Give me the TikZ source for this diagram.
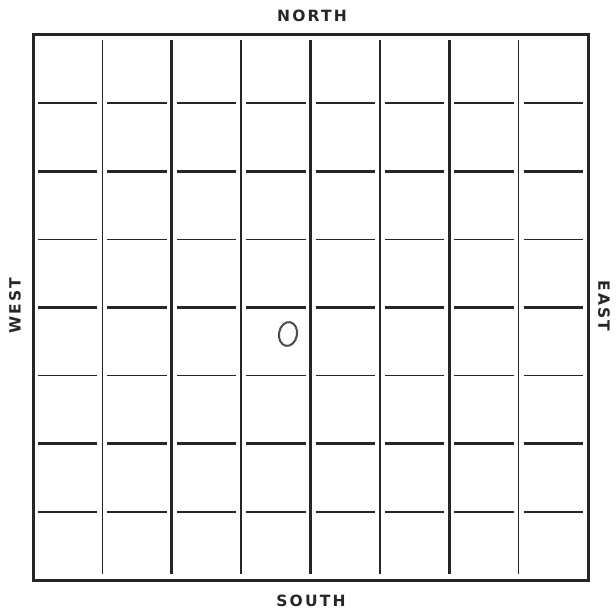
\documentclass[tikz,border=0pt]{standalone}
\usepackage{fontspec}
\newfontfamily\mapfont[LetterSpace=14]{DejaVu Sans}
\begin{document}
\begin{tikzpicture}[x=1pt,y=-1pt,
    street/.style={line width=1.7pt, color=black!85},
    avenue/.style={line width=2.9pt, color=black!85},
    compass/.style={font=\mapfont\bfseries\fontsize{15.5}{15.5}\selectfont, color=black!85}]
    \useasboundingbox (0,0) rectangle (616,609);
    \draw[line width=3pt, color=black!85] (33,35) rectangle (588,580);
    \foreach \i/\sty in {1/street, 2/avenue, 3/street, 4/avenue, 5/street, 6/avenue, 7/street} {
        \draw[\sty] ({33+69.375*\i},40) -- ({33+69.375*\i},574);
    }
    \foreach \j/\sty in {1/street, 2/avenue, 3/street, 4/avenue, 5/street, 6/avenue, 7/street} {
        \foreach \k in {0,...,7} {
            \draw[\sty] ({33+69.375*\k+5},{35+68.125*\j}) -- ({33+69.375*(\k+1)-5},{35+68.125*\j});
        }
    }
    \draw[line width=2pt, color=black!70, rotate around={-10:(288,334)}] (288,334) ellipse [x radius=9, y radius=12];
    \node[compass] (north) at (312,16) {NORTH};
    \node[compass] (south) at (311,601) {SOUTH};
    \node[compass, rotate=90] (west) at (15,306) {WEST};
    \node[compass, rotate=-90] (east) at (604,306) {EAST};
\end{tikzpicture}
\end{document}
